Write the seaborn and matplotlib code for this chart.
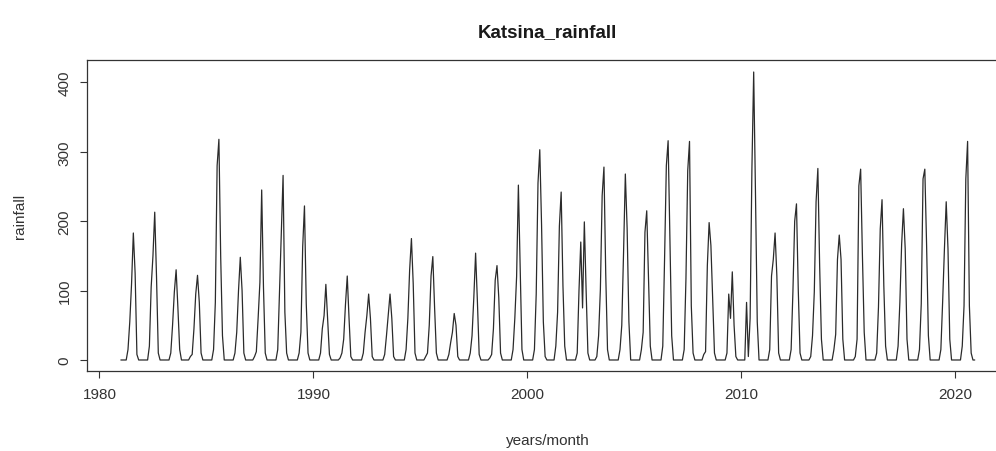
import numpy as np
import pandas as pd
import matplotlib
matplotlib.use("Agg")
import matplotlib.pyplot as plt
import seaborn as sns

# ---- data: monthly rainfall, Katsina, 1981-2020 (one value per year in each month list)
years = [1981, 1982, 1983, 1984, 1985, 1986, 1987, 1988, 1989, 1990,
         1991, 1992, 1993, 1994, 1995, 1996, 1997, 1998, 1999, 2000,
         2001, 2002, 2003, 2004, 2005, 2006, 2007, 2008, 2009, 2010,
         2011, 2012, 2013, 2014, 2015, 2016, 2017, 2018, 2019, 2020]

jan = [0, 0, 0, 0, 0, 0, 0, 0, 0, 0, 0, 0, 0, 0, 0, 0, 0, 0, 0, 0,
       0, 0, 0, 0, 0, 0, 0, 0, 0, 0, 0, 0, 0, 0, 0, 0, 0, 0, 0, 0]
feb = [0, 0, 0, 0, 0, 0, 0, 0, 0, 0, 0, 0, 0, 0, 0, 0, 0, 0, 0, 0,
       0, 0, 0, 0, 0, 0, 0, 0, 0, 0, 0, 0, 0, 0, 0, 0, 0, 0, 0, 0]
mar = [0, 0, 0, 0, 0, 0, 0, 0, 0, 0, 0, 0, 0, 0, 0, 0, 0, 0, 0, 0,
       0, 0, 0, 0, 0, 0, 0, 0, 0, 0, 0, 0, 0, 0, 0, 0, 0, 0, 0, 0]
apr = [0, 0, 0, 5, 0, 0, 5, 0, 0, 0, 3, 0, 0, 0, 5, 0, 0, 3, 0, 0,
       0, 0, 5, 0, 0, 0, 0, 8, 0, 83, 0, 0, 5, 0, 0, 0, 0, 0, 0, 0]
may = [15, 20, 10, 8, 15, 10, 12, 15, 10, 10, 10, 10, 8, 15, 10, 8, 10, 8, 15, 15,
       20, 10, 35, 15, 15, 20, 15, 12, 10, 5, 15, 15, 35, 15, 5, 10, 20, 15, 15, 20]
jun = [55, 105, 50, 45, 83, 40, 60, 98, 40, 45, 30, 40, 35, 60, 50, 25, 35, 45, 60, 95,
       69, 100, 102, 50, 40, 145, 117, 136, 95, 60, 121, 98, 98, 37, 30, 76, 83, 81, 84, 78]
jul = [110, 150, 98, 95, 280, 100, 112, 185, 163, 64, 80, 64, 65, 130, 121, 40, 90, 115, 120, 255,
       193, 170, 237, 155, 184, 280, 273, 198, 60, 275, 145, 200, 228, 145, 251, 189, 167, 261, 160, 261]
aug = [183, 213, 130, 122, 318, 148, 245, 266, 222, 109, 121, 95, 95, 175, 149, 67, 154, 136, 252, 303,
       242, 75, 278, 268, 215, 316, 315, 165, 127, 415, 183, 225, 276, 180, 275, 231, 218, 275, 228, 315]
sep = [125, 120, 75, 83, 149, 100, 105, 69, 81, 60, 60, 60, 60, 110, 75, 50, 85, 90, 130, 195,
       107, 199, 124, 190, 117, 174, 78, 88, 50, 241, 121, 102, 136, 145, 150, 107, 160, 165, 160, 78]
oct_ = [8, 10, 15, 10, 35, 10, 10, 10, 10, 8, 5, 5, 5, 10, 10, 5, 8, 10, 15, 55,
        20, 100, 15, 55, 20, 35, 10, 10, 5, 55, 10, 10, 30, 30, 40, 20, 30, 35, 30, 10]
nov = [0, 0, 0, 0, 0, 0, 0, 0, 0, 0, 0, 0, 0, 0, 0, 0, 0, 0, 0, 5,
       0, 10, 0, 0, 0, 0, 0, 0, 0, 0, 0, 0, 0, 0, 0, 0, 0, 0, 0, 0]
dec = [0, 0, 0, 0, 0, 0, 0, 0, 0, 0, 0, 0, 0, 0, 0, 0, 0, 0, 0, 0,
       0, 0, 0, 0, 0, 0, 0, 0, 0, 0, 0, 0, 0, 0, 0, 0, 0, 0, 0, 0]

month_lists = [jan, feb, mar, apr, may, jun, jul, aug, sep, oct_, nov, dec]
x_ticks = [1980, 1990, 2000, 2010, 2020]
y_ticks = [0, 100, 200, 300, 400]

rows = []
for yi, yr in enumerate(years):
    for mi, mlist in enumerate(month_lists):
        rows.append((yr + mi / 12.0, mlist[yi]))
df = pd.DataFrame(rows, columns=["time", "rainfall"])

# ---- plot
sns.set_style("white")
plt.rcParams["font.family"] = ["Liberation Sans", "DejaVu Sans"]

fig = plt.figure(figsize=(9.96, 4.52), dpi=100)
ax = fig.add_axes([86.7 / 996, (452 - 372.3) / 452, 922.2 / 996, 311.3 / 452])

sns.lineplot(data=df, x="time", y="rainfall", ax=ax, color="#2b2b2b",
             linewidth=0.9, estimator=None, sort=True)

ax.set_xlim(1979.403, 2022.514)
ax.set_ylim(-16.3, 432.3)
ax.set_xticks(x_ticks)
ax.set_xticklabels([str(v) for v in x_ticks])
ax.set_yticks(y_ticks)
ax.set_yticklabels([str(v) for v in y_ticks], rotation=90, va="center")

for s in ax.spines.values():
    s.set_color("#333333")
    s.set_linewidth(0.9)

ax.tick_params(axis="both", direction="out", length=5, width=0.8,
               color="#333333", labelsize=11, labelcolor="#333333",
               bottom=True, left=True, pad=6)

ax.set_xlabel("years/month", fontsize=11, color="#333333", labelpad=23)
ax.set_ylabel("rainfall", fontsize=11, color="#333333", labelpad=22)
ax.set_title("Katsina_rainfall", fontsize=13.5, fontweight="bold",
             color="#1a1a1a", pad=17)

fig.savefig("out.png", dpi=100)
